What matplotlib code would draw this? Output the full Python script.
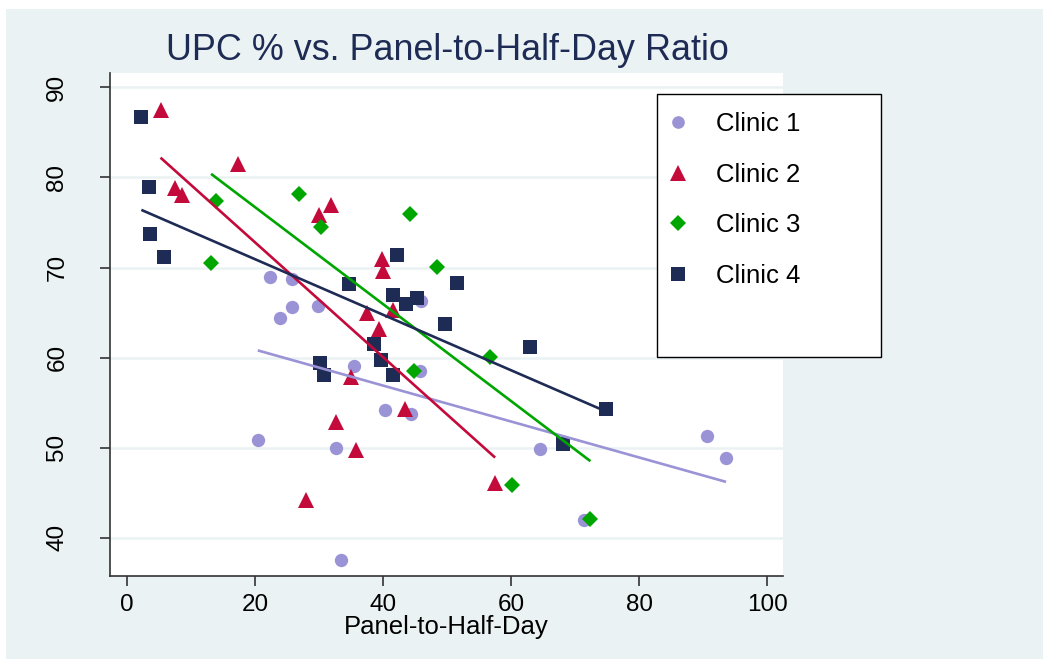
import matplotlib
matplotlib.use("Agg")
import matplotlib.pyplot as plt
from matplotlib.patches import Rectangle

# ---------------- data ----------------
c1_x = [22.3, 25.7, 25.8, 29.8, 23.8, 45.9, 35.4, 45.8, 40.3, 44.4, 20.4, 32.7, 64.5, 71.4, 33.4, 90.6, 93.6]
c1_y = [68.9, 68.7, 65.6, 65.7, 64.4, 66.3, 59.1, 58.5, 54.2, 53.7, 50.8, 50.0, 49.8, 42.0, 37.5, 51.3, 48.8]

c2_x = [5.2, 7.4, 8.5, 17.3, 29.9, 31.8, 39.8, 40.0, 37.4, 41.5, 39.4, 34.9, 43.4, 32.7, 35.7, 28.0, 57.5]
c2_y = [87.5, 78.8, 78.0, 81.5, 75.8, 76.9, 71.0, 69.6, 65.0, 65.3, 63.2, 57.9, 54.3, 52.9, 49.7, 44.2, 46.1]

c3_x = [13.1, 13.8, 26.8, 30.3, 44.2, 48.4, 44.8, 56.7, 60.1, 72.4]
c3_y = [70.5, 77.4, 78.2, 74.5, 75.9, 70.1, 58.5, 60.1, 45.9, 42.1]

c4_x = [2.2, 3.4, 3.6, 5.8, 34.7, 42.1, 41.5, 43.5, 45.3, 49.7, 51.6, 38.6, 39.7, 30.1, 30.8, 41.5, 62.9, 68.1, 74.9]
c4_y = [86.7, 78.9, 73.7, 71.2, 68.2, 71.4, 67.0, 66.0, 66.6, 63.7, 68.3, 61.5, 59.7, 59.4, 58.1, 58.1, 61.2, 50.4, 54.3]

# fitted lines (endpoints over each clinic's x range)
fit1_x = [20.4, 93.6]
fit1_y = [60.8, 46.2]
fit2_x = [5.2, 57.5]
fit2_y = [82.2, 48.9]
fit3_x = [13.1, 72.4]
fit3_y = [80.4, 48.5]
fit4_x = [2.2, 74.9]
fit4_y = [76.4, 54.0]

labels = ["Clinic 1", "Clinic 2", "Clinic 3", "Clinic 4"]
x_ticks = [0, 20, 40, 60, 80, 100]
y_ticks = [40, 50, 60, 70, 80, 90]

title = "UPC % vs. Panel-to-Half-Day Ratio"
x_label = "Panel-to-Half-Day"

# ---------------- style ----------------
plt.rcParams["font.family"] = ["Liberation Sans", "DejaVu Sans"]
BG = "#EAF2F3"
C1, C2, C3, C4 = "#9A93D6", "#C30A3A", "#00A600", "#1E2B55"
W, H = 1043, 659

fig = plt.figure(figsize=(W / 100, H / 100), dpi=100)
fig.patch.set_facecolor("white")
fig.add_artist(Rectangle((6 / W, 0), 1 - 6 / W, 1 - 9 / H, transform=fig.transFigure,
                         facecolor=BG, edgecolor="none", zorder=0))

ax = fig.add_axes([110 / W, 1 - 576 / H, (783 - 110) / W, (576 - 73) / H])
ax.set_facecolor("white")
ax.set_xlim(-2.7, 102.5)
ax.set_ylim(35.75, 91.6)

for yt in y_ticks:
    ax.axhline(yt, color=BG, lw=1.8, zorder=1)

ms = dict(linestyle="none", markeredgewidth=0, zorder=3)
h1, = ax.plot(c1_x, c1_y, marker="o", markersize=9.6, color=C1, **ms)
h2, = ax.plot(c2_x, c2_y, marker="^", markersize=11.5, color=C2, **ms)
h3, = ax.plot(c3_x, c3_y, marker="D", markersize=8.2, color=C3, **ms)
h4, = ax.plot(c4_x, c4_y, marker="s", markersize=10, color=C4, **ms)

lw = 1.9
ax.plot(fit1_x, fit1_y, color=C1, lw=lw, zorder=4, solid_capstyle="butt")
ax.plot(fit2_x, fit2_y, color=C2, lw=lw, zorder=4, solid_capstyle="butt")
ax.plot(fit3_x, fit3_y, color=C3, lw=lw, zorder=4, solid_capstyle="butt")
ax.plot(fit4_x, fit4_y, color=C4, lw=lw, zorder=4, solid_capstyle="butt")

for s in ["top", "right"]:
    ax.spines[s].set_visible(False)
for s in ["left", "bottom"]:
    ax.spines[s].set_color("#333333")
    ax.spines[s].set_linewidth(1.2)

ax.set_xticks(x_ticks)
ax.set_yticks(y_ticks)
ax.tick_params(axis="x", length=7, width=1.2, color="#333333", labelsize=17.5, pad=6)
ax.tick_params(axis="y", length=7, width=1.2, color="#333333", labelsize=17.5, pad=23)
for lab in ax.get_yticklabels():
    lab.set_rotation(90)
    lab.set_va("center")

ax.set_xlabel(x_label, fontsize=18.5, labelpad=-1)
fig.text(447.5 / W, 1 - 51 / H, title, fontsize=25.8, color=C4, ha="center", va="center")

# legend box
fig.add_artist(Rectangle((657 / W, 1 - 357 / H), (881 - 657) / W, (357 - 94) / H,
                         transform=fig.transFigure, facecolor="white",
                         edgecolor="black", lw=1.0, zorder=5))
leg = fig.legend([h1, h2, h3, h4], labels, loc="upper left",
                 bbox_to_anchor=(665 / W, 1 - 112 / H), frameon=False,
                 fontsize=18.5, handlelength=1.0, handletextpad=1.0,
                 borderpad=0, borderaxespad=0, labelspacing=1.04, markerscale=0.95)
leg.set_zorder(6)

fig.savefig("out.png", dpi=100, facecolor=fig.get_facecolor())
